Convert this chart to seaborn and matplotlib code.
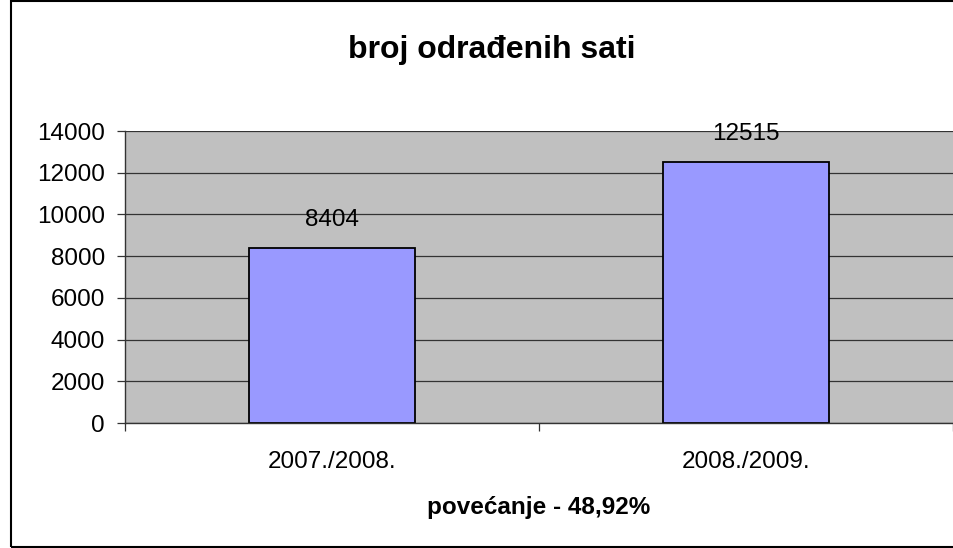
import matplotlib
matplotlib.use('Agg')
import matplotlib.pyplot as plt
import matplotlib.patches as patches
import pandas as pd
import seaborn as sns

seasons = ['2007./2008.', '2008./2009.']
hours = [8404, 12515]

sns.set_style('white')
plt.rcParams['font.family'] = ['Liberation Sans', 'DejaVu Sans']
plt.rcParams['text.color'] = 'black'
plt.rcParams['xtick.color'] = 'black'
plt.rcParams['ytick.color'] = 'black'
plt.rcParams['axes.labelcolor'] = 'black'

df = pd.DataFrame({'season': seasons, 'hours': hours})

fig = plt.figure(figsize=(9.54, 5.48), dpi=100)
ax = fig.add_axes([125 / 954, 1 - 423 / 548, 828 / 954, 292 / 548])
ax.set_facecolor('#C0C0C0')

sns.barplot(data=df, x='season', y='hours', ax=ax, width=0.4,
            color='#9999FF', edgecolor='black', linewidth=1.3, saturation=1)

ax.set_ylim(0, 14000)
ax.set_xlim(-0.5, 1.5)
ax.set_yticks(range(0, 14001, 2000))
ax.grid(axis='y', color='#333333', linewidth=0.9)
ax.set_axisbelow(True)

for s in ['top', 'right']:
    ax.spines[s].set_visible(False)
for s in ['left', 'bottom']:
    ax.spines[s].set_color('#333333')
    ax.spines[s].set_linewidth(1.0)

ax.tick_params(axis='y', which='major', length=6, width=0.9, color='#333333',
               labelcolor='black', labelsize=17.5, pad=8.5, left=True)
ax.tick_params(axis='x', which='major', length=0, labelsize=17.5, pad=20,
               labelcolor='black')
ax.set_xticks([-0.5, 0.5, 1.5], minor=True)
ax.tick_params(axis='x', which='minor', length=6, width=0.9, color='#333333',
               bottom=True)

for c in ax.containers:
    ax.bar_label(c, labels=[str(v) for v in hours], padding=12, fontsize=17.5,
                 color='black')

ax.set_xlabel('povećanje - 48,92%', fontsize=17.5, fontweight='bold', labelpad=17,
              color='black')
ax.set_ylabel('')
fig.text(492 / 954, 1 - 50 / 548, 'broj odrađenih sati', ha='center', va='center',
         fontsize=23, fontweight='bold', color='black')

border = patches.Rectangle((11 / 954, 1 / 548), 1.0, 546 / 548,
                           transform=fig.transFigure, fill=False,
                           edgecolor='black', linewidth=1.5)
fig.patches.append(border)

fig.savefig('out.png', dpi=100)
